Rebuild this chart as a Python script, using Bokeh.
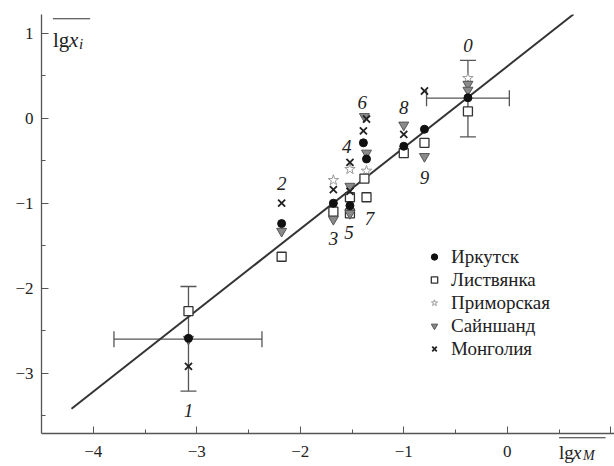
from bokeh.plotting import figure
from bokeh.models import (Range1d, SingleIntervalTicker, Legend, LegendItem, Label,
                          Whisker, ColumnDataSource, TeeHead, Arrow)
from bokeh.core.properties import value
from bokeh.embed import file_html
from bokeh.resources import INLINE

# ---- data ----
irk_x = [-0.38, -3.08, -2.18, -1.68, -1.52, -1.39, -1.36, -1.00, -0.80]
irk_y = [0.24, -2.59, -1.24, -1.00, -1.03, -0.29, -0.48, -0.33, -0.13]

lis_x = [-0.38, -3.08, -2.18, -1.68, -1.52, -1.52, -1.38, -1.36, -1.00, -0.80]
lis_y = [0.08, -2.27, -1.63, -1.10, -0.93, -1.12, -0.71, -0.93, -0.41, -0.29]

pri_x = [-0.38, -1.68, -1.52, -1.36]
pri_y = [0.47, -0.73, -0.60, -0.62]

sai_x = [-0.38, -0.38, -3.08, -2.18, -1.68, -1.52, -1.52, -1.38, -1.36, -1.00, -0.80]
sai_y = [0.40, 0.33, -2.60, -1.33, -1.19, -0.80, -1.12, 0.02, -0.41, -0.08, -0.45]

mon_x = [-3.08, -2.18, -1.68, -1.52, -1.52, -1.36, -1.39, -1.00, -0.80]
mon_y = [-2.92, -1.00, -0.84, -0.52, -0.86, -0.01, -0.15, -0.19, 0.32]

# error bars (points 0 and 1)
err_x = [-0.38, -3.08]
err_y = [0.235, -2.60]
err_x_lo = [-0.78, -3.80]
err_x_hi = [0.02, -2.37]
err_y_lo = [-0.22, -3.21]
err_y_hi = [0.68, -1.98]

# point number labels
num_text = ["0", "1", "2", "3", "4", "5", "6", "7", "8", "9"]
num_x = [-0.38, -3.08, -2.18, -1.68, -1.55, -1.53, -1.40, -1.33, -1.00, -0.80]
num_y = [0.86, -3.44, -0.77, -1.42, -0.33, -1.35, 0.19, -1.18, 0.12, -0.70]

# regression line
line_x = [-4.21, 0.64]
slope, intercept = 0.957, 0.61

x_ticks = [-4, -3, -2, -1, 0, 1]
x_tick_labels = ["\u22124", "\u22123", "\u22122", "\u22121", "0", ""]
y_ticks = [1, 0, -1, -2, -3]
y_tick_labels = ["1", "0", "\u22121", "\u22122", "\u22123"]

legend_names = ["Иркутск", "Листвянка", "Приморская", "Сайншанд", "Монголия"]

SERIF = "Liberation Serif"

Y_AXIS_POS = -3.71
p = figure(frame_width=573, frame_height=452, output_backend="svg", toolbar_location=None,
           x_range=Range1d(-4.5, 1.036), y_range=Range1d(-4.098, 1.22),
           min_border_left=41, min_border_right=0, min_border_top=14, min_border_bottom=0)
p.outline_line_color = None
p.grid.visible = False
p.background_fill_color = "white"

for ax, ticks, labels in ((p.xaxis[0], x_ticks, x_tick_labels), (p.yaxis[0], y_ticks, y_tick_labels)):
    ax.ticker = SingleIntervalTicker(interval=1, num_minor_ticks=2)
    ax.major_label_overrides = {t: l for t, l in zip(ticks, labels)}
    ax.axis_line_color = "#555555"
    ax.axis_line_width = 1.3
    ax.major_tick_line_color = "#555555"
    ax.minor_tick_line_color = "#555555"
    ax.major_tick_in = 7
    ax.major_tick_out = 0
    ax.minor_tick_in = 4
    ax.minor_tick_out = 0
    ax.major_label_text_font = SERIF
    ax.major_label_text_font_size = "17px"
    ax.major_label_text_color = "#222222"
p.xaxis.fixed_location = Y_AXIS_POS
p.yaxis.bounds = (Y_AXIS_POS, 1.22)
p.xaxis.major_label_standoff = 12
p.yaxis.major_label_standoff = 8

# regression line
p.line(line_x, [slope * v + intercept for v in line_x], line_color="#333333", line_width=2)

# error bars
src = ColumnDataSource(dict(x=err_x, y=err_y, xlo=err_x_lo, xhi=err_x_hi, ylo=err_y_lo, yhi=err_y_hi))
p.add_layout(Whisker(base="y", lower="xlo", upper="xhi", dimension="width", source=src,
                     line_color="#555555", line_width=1.3,
                     upper_head=TeeHead(size=16, line_color="#555555", line_width=1.3),
                     lower_head=TeeHead(size=16, line_color="#555555", line_width=1.3)))
p.add_layout(Whisker(base="x", lower="ylo", upper="yhi", dimension="height", source=src,
                     line_color="#555555", line_width=1.3,
                     upper_head=TeeHead(size=16, line_color="#555555", line_width=1.3),
                     lower_head=TeeHead(size=16, line_color="#555555", line_width=1.3)))

r_pri = p.scatter(pri_x, pri_y, marker="star", size=11, fill_color="white", line_color="#9a9a9a", line_width=1)
r_lis = p.scatter(lis_x, lis_y, marker="square", size=9, fill_color="white", line_color="#333333", line_width=1.3)
r_sai = p.scatter(sai_x, sai_y, marker="inverted_triangle", size=10, fill_color="#8a8a8a", line_color="#555555", line_width=1)
r_irk = p.scatter(irk_x, irk_y, marker="circle", size=8, fill_color="#111111", line_color="#111111")
r_mon = p.scatter(mon_x, mon_y, marker="x", size=10, line_color="#222222", line_width=1.8)

# number labels
p.text(num_x, num_y, text=num_text, text_font=value(SERIF), text_font_style="italic",
       text_font_size="19px", text_align="center", text_baseline="middle", text_color="#222222")

legend = Legend(items=[LegendItem(label=legend_names[0], renderers=[r_irk]),
                       LegendItem(label=legend_names[1], renderers=[r_lis]),
                       LegendItem(label=legend_names[2], renderers=[r_pri]),
                       LegendItem(label=legend_names[3], renderers=[r_sai]),
                       LegendItem(label=legend_names[4], renderers=[r_mon])],
                location=(385, 106), border_line_color=None, background_fill_alpha=0,
                label_text_font=SERIF, label_text_font_size="19px", label_text_color="#222222",
                label_height=23, glyph_height=23, glyph_width=16, spacing=0, padding=4,
                label_standoff=9)
p.add_layout(legend)

# axis titles: overline lg x_i (y) and lg x_M (x)
def axis_title(x0, y0, sub, size, sub_size, sub_drop):
    p.add_layout(Label(x=x0, y=y0, text="lg", text_font=SERIF, text_font_size=f"{size}px",
                       text_color="#222222", text_baseline="alphabetic"))
    p.add_layout(Label(x=x0, y=y0, x_offset=int(size * 0.78), text="x", text_font=SERIF,
                       text_font_style="italic", text_font_size=f"{size}px", text_color="#222222",
                       text_baseline="alphabetic"))
    p.add_layout(Label(x=x0, y=y0, x_offset=int(size * 1.28), y_offset=-sub_drop, text=sub,
                       text_font=SERIF, text_font_style="italic", text_font_size=f"{sub_size}px",
                       text_color="#222222", text_baseline="alphabetic"))

axis_title(-4.39, 0.92, "i", 21, 15, 4)
axis_title(0.50, -3.93, "M", 19, 14, 3)
p.add_layout(Arrow(x_start=-4.39, y_start=1.17, x_end=-4.03, y_end=1.17, end=None,
                   line_color="#333333", line_width=1.2))
p.add_layout(Arrow(x_start=0.50, y_start=-3.76, x_end=0.95, y_end=-3.76, end=None,
                   line_color="#333333", line_width=1.2))

open("out.html", "w").write(file_html(p, INLINE))
